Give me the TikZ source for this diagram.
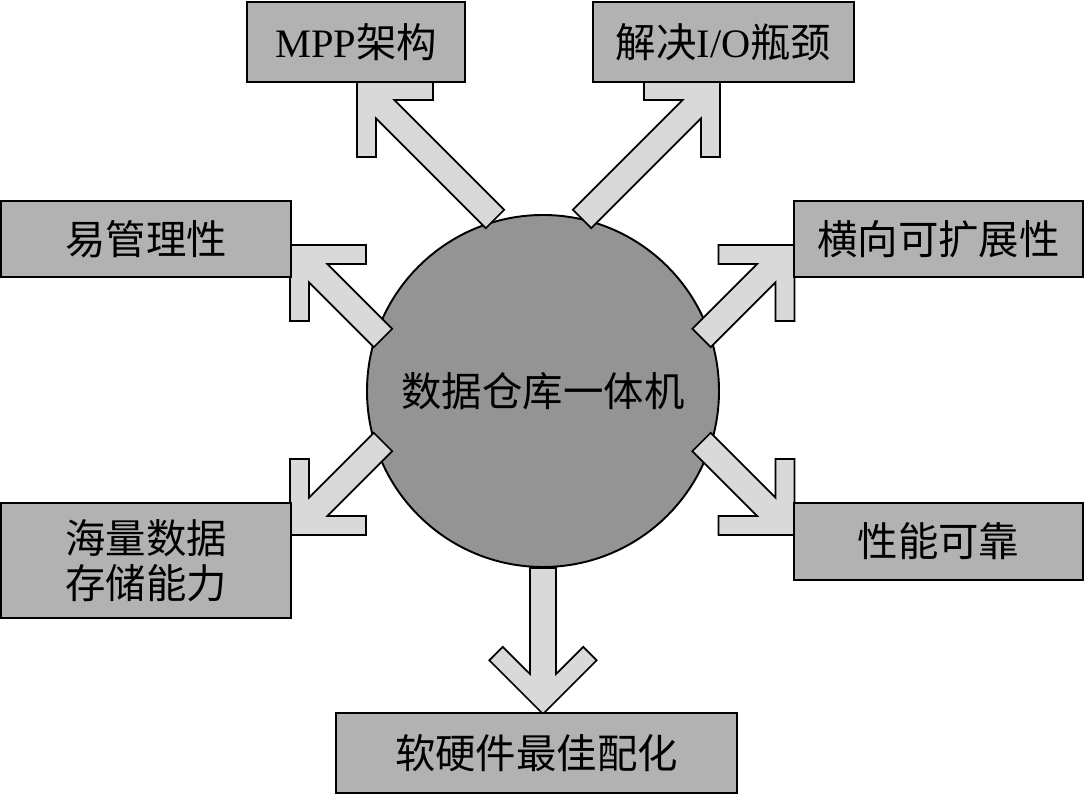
\documentclass[tikz,border=0pt]{standalone}
\usepackage{fontspec}
\setmainfont{Liberation Serif}
\newfontfamily\cjk{Noto Sans CJK SC}
\usetikzlibrary{calc}

\begin{document}
\begin{tikzpicture}[font=\fontsize{23}{25.5}\selectfont\cjk,
    infobox/.style={draw=black, line width=1.4pt, fill=black!30, rectangle, align=center, inner sep=0pt},
    fatarrow/.style={draw=black, line width=1pt, fill=black!15, line join=miter}]
  \useasboundingbox (0,0) rectangle (21.7,15.9);

  \node[circle, draw=black, line width=1.1pt, fill=black!42, minimum size=7.04cm] (hub) at (10.86,8.08) {数据仓库一体机};

  % shaft ends and tips
  \coordinate (tailmpp) at (9.90,11.52);   \coordinate (headmpp) at (7.14,14.28);
  \coordinate (tailio) at (11.64,11.52);   \coordinate (headio) at (14.40,14.28);
  \coordinate (taileasy) at (7.66,9.14);   \coordinate (headeasy) at (5.80,11.00);
  \coordinate (tailscale) at (14.03,9.14); \coordinate (headscale) at (15.89,11.00);
  \coordinate (tailstore) at (7.66,7.06);  \coordinate (headstore) at (5.80,5.20);
  \coordinate (tailsafe) at (14.03,7.06);  \coordinate (headsafe) at (15.89,5.20);
  \coordinate (headopt) at (10.86,1.62);

  \foreach \tail/\head in {tailmpp/headmpp, tailio/headio, taileasy/headeasy, tailscale/headscale,
                           tailstore/headstore, tailsafe/headsafe, hub.south/headopt} {
    \draw[fatarrow] let \p1=($(\head)-(\tail)$), \n1={atan2(\y1,\x1)} in
      (\head) -- ($(\head)+(\n1+135:1.52)$) -- ($(\head)+(\n1+135:1.52)+(\n1+225:0.38)$)
      -- ($(\head)+(\n1+180:0.80)+(\n1+90:0.26)$) -- ($(\tail)+(\n1+90:0.26)$)
      -- ($(\tail)+(\n1-90:0.26)$) -- ($(\head)+(\n1+180:0.80)+(\n1-90:0.26)$)
      -- ($(\head)+(\n1+225:1.52)+(\n1+135:0.38)$) -- ($(\head)+(\n1+225:1.52)$) -- cycle;
  }

  \node[infobox, minimum width=4.36cm, minimum height=1.6cm] (mpp) at (7.12,15.06) {{\rmfamily MPP}架构};
  \node[infobox, minimum width=5.22cm, minimum height=1.6cm] (io) at (14.47,15.06) {解决{\rmfamily I/O}瓶颈};
  \node[infobox, minimum width=5.80cm, minimum height=1.52cm] (easy) at (2.92,11.12) {易管理性};
  \node[infobox, minimum width=5.78cm, minimum height=1.52cm] (scale) at (18.77,11.12) {横向可扩展性};
  \node[infobox, minimum width=5.80cm, minimum height=2.30cm] (store) at (2.92,4.69) {海量数据\\存储能力};
  \node[infobox, minimum width=5.78cm, minimum height=1.54cm] (safe) at (18.77,5.07) {性能可靠};
  \node[infobox, minimum width=8.02cm, minimum height=1.60cm] (opt) at (10.73,0.84) {软硬件最佳配化};
\end{tikzpicture}
\end{document}
